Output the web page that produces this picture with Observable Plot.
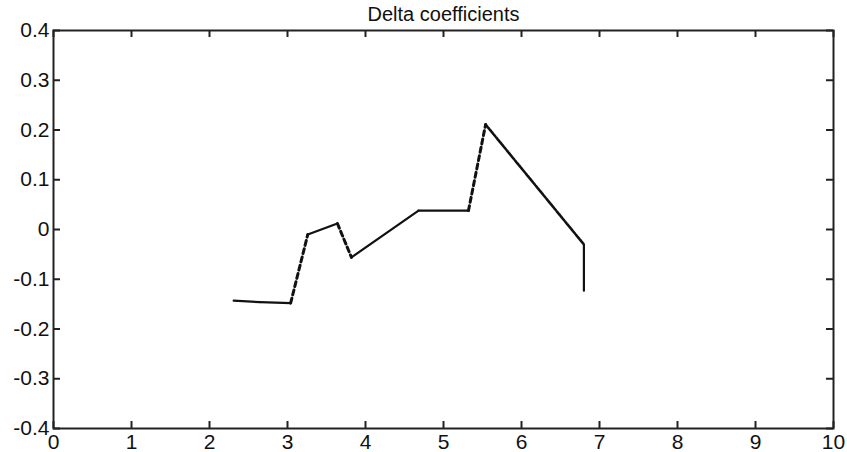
<!DOCTYPE html>
<html>
<head>
<meta charset="utf-8">
<script src="https://cdn.jsdelivr.net/npm/d3@7"></script>
<script src="https://cdn.jsdelivr.net/npm/@observablehq/plot@0.6"></script>
<style>
  html, body { margin: 0; padding: 0; background: #fff; }
  #chart svg g[aria-label$="tick label"] { font-size: 21px; }
</style>
</head>
<body>
<div id="chart"></div>
<script>
// Delta coefficient trajectory
const xValues = [2.31, 2.65, 3.04, 3.26, 3.64, 3.82, 4.68, 5.32, 5.54, 6.80, 6.80];
const yValues = [-0.143, -0.146, -0.148, -0.010, 0.012, -0.056, 0.038, 0.038, 0.211, -0.030, -0.123];

const xTicks = [0, 1, 2, 3, 4, 5, 6, 7, 8, 9, 10];
const xTickLabels = ["0", "1", "2", "3", "4", "5", "6", "7", "8", "9", "10"];
const yTicks = [-0.4, -0.3, -0.2, -0.1, 0, 0.1, 0.2, 0.3, 0.4];
const yTickLabels = ["-0.4", "-0.3", "-0.2", "-0.1", "0", "0.1", "0.2", "0.3", "0.4"];

const title = "Delta coefficients";

// Split the polyline into segments so steep jumps can be drawn broken
const segments = [];
for (let i = 0; i < xValues.length - 1; i++) {
  segments.push({seg: i, x: xValues[i], y: yValues[i]});
  segments.push({seg: i, x: xValues[i + 1], y: yValues[i + 1]});
}
const dashedSegs = new Set([2, 4, 7]);
const dottedSegs = new Set([8]);
const solid = segments.filter(d => !dashedSegs.has(d.seg) && !dottedSegs.has(d.seg));
const dashed = segments.filter(d => dashedSegs.has(d.seg));
const dotted = segments.filter(d => dottedSegs.has(d.seg));

const W = 847, H = 452;
const mL = 53, mR = 14, mT = 30, mB = 24;
const innerW = W - mL - mR, innerH = H - mT - mB;
const tickLen = 7;

const chart = Plot.plot({
  width: W,
  height: H,
  marginLeft: mL,
  marginRight: mR,
  marginTop: mT,
  marginBottom: mB,
  style: {fontFamily: "'Liberation Sans', Arial, sans-serif", fontSize: "20px", background: "#fff", color: "#222"},
  x: {domain: [0, 10]},
  y: {domain: [-0.4, 0.4]},
  marks: [
    // inward ticks on all four sides
    Plot.ruleX(xTicks, {x: d => d, insetTop: innerH - tickLen, stroke: "#222", strokeWidth: 2}),
    Plot.ruleX(xTicks, {x: d => d, insetBottom: innerH - tickLen, stroke: "#222", strokeWidth: 2}),
    Plot.ruleY(yTicks, {y: d => d, insetRight: innerW - tickLen, stroke: "#222", strokeWidth: 2}),
    Plot.ruleY(yTicks, {y: d => d, insetLeft: innerW - tickLen, stroke: "#222", strokeWidth: 2}),
    Plot.frame({stroke: "#222", strokeWidth: 2}),
    Plot.axisX({ticks: xTicks, tickSize: 0, tickPadding: 6, tickFormat: (d, i) => xTickLabels[i], label: null, fontSize: 21, fill: "#111"}),
    Plot.axisY({ticks: yTicks, tickSize: 0, tickPadding: 4, tickFormat: (d, i) => yTickLabels[i], label: null, fontSize: 21, fill: "#111"}),
    Plot.line(solid, {x: "x", y: "y", z: "seg", stroke: "#111", strokeWidth: 2.2}),
    Plot.line(dashed, {x: "x", y: "y", z: "seg", stroke: "#111", strokeWidth: 3, strokeDasharray: "5,3.5"}),
    Plot.line(dotted, {x: "x", y: "y", z: "seg", stroke: "#111", strokeWidth: 2.6, strokeDasharray: "2,1.3"}),
    Plot.text([title], {text: d => d, frameAnchor: "top", lineAnchor: "middle", dy: -16, fontSize: 20, fill: "#111"})
  ]
});
document.getElementById("chart").appendChild(chart);
</script>
</body>
</html>
